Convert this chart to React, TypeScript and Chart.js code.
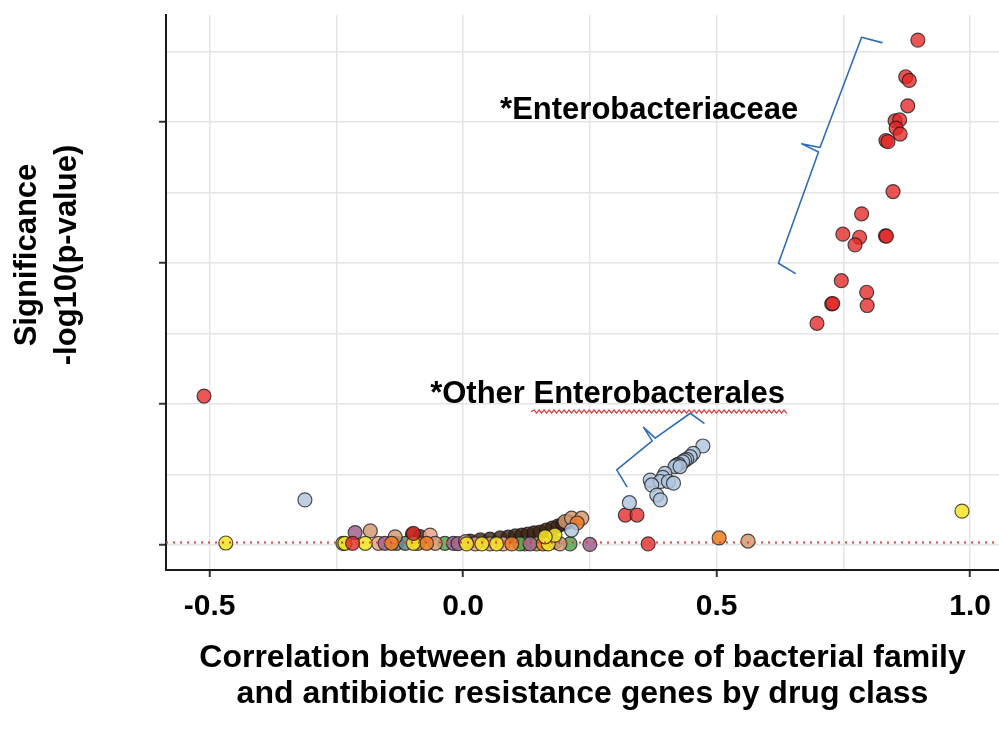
import React, { useEffect, useRef } from "react";
import { Chart, registerables } from "chart.js";

Chart.register(...registerables);

const FONT = '"Liberation Sans", Arial, Helvetica, sans-serif';

// Axis ticks
const xTicks = [-0.5, -0.25, 0, 0.25, 0.5, 0.75, 1.0];
const xTickLabels = ["-0.5", "", "0.0", "", "0.5", "", "1.0"];
const yTicks = [0, 2.5, 5, 7.5, 10, 12.5, 15, 17.5];
const xMin = -0.586;
const xMax = 1.057;
const yMin = -0.887;
const yMax = 18.79;
const thresholdY = 0.09;

// Titles
const xTitle = [
  "Correlation between abundance of bacterial family",
  "and antibiotic resistance genes by drug class",
];
const yTitle = ["Significance", "-log10(p-value)"];

// Series (correlation, -log10 p)
const enterobacteriaceaeX = [
  0.897, 0.873, 0.88, 0.877, 0.852, 0.861, 0.854, 0.862, 0.834, 0.838, 0.848,
  0.786, 0.749, 0.782, 0.773, 0.833, 0.835, 0.746, 0.796, 0.727, 0.729, 0.797,
  0.698, 0.32, 0.343, -0.511, 0.365, -0.218, -0.098,
];
const enterobacteriaceaeY = [
  17.9, 16.6, 16.47, 15.57, 15.04, 15.07, 14.78, 14.57, 14.34, 14.3, 12.53,
  11.74, 11.02, 10.91, 10.64, 10.96, 10.95, 9.37, 8.96, 8.55, 8.56, 8.49,
  7.86, 1.06, 1.06, 5.28, 0.04, 0.06, 0.41,
];

const otherEnterobacteralesX = [
  0.473, 0.454, 0.448, 0.441, 0.437, 0.433, 0.425, 0.421, 0.418, 0.428, 0.398,
  0.394, 0.369, 0.389, 0.405, 0.415, 0.372, 0.382, 0.389, 0.328, -0.312, 0.214,
];
const otherEnterobacteralesY = [
  3.51, 3.25, 3.13, 3.04, 3.0, 2.95, 2.87, 2.83, 2.78, 2.78, 2.54,
  2.4, 2.3, 2.25, 2.25, 2.19, 2.13, 1.77, 1.6, 1.5, 1.6, 0.53,
];

const yellowX = [-0.468, 0.984, -0.233, -0.193, -0.098, 0.007, 0.037, 0.066, 0.168, 0.181, 0.162];
const yellowY = [0.07, 1.2, 0.06, 0.06, 0.06, 0.04, 0.04, 0.04, 0.04, 0.35, 0.29];

const orangeX = [0.505, -0.141, -0.089, -0.072, 0.096, 0.158, 0.225];
const orangeY = [0.25, 0.06, 0.06, 0.06, 0.04, 0.04, 0.78];

const tanX = [0.562, -0.183, -0.134, -0.055, 0.053, 0.191, 0.201, 0.214, 0.234, 0.005];
const tanY = [0.14, 0.5, 0.29, 0.06, 0.04, 0.04, 0.83, 0.95, 0.95, 0.12];

const purpleX = [-0.213, -0.154, -0.019, -0.01, 0.132, 0.25];
const purpleY = [0.44, 0.06, 0.06, 0.05, 0.04, 0.02];

const greenX = [-0.036, 0.112, 0.211];
const greenY = [0.06, 0.04, 0.04];

const tealX = [-0.131, -0.114, 0.181];
const tealY = [0.06, 0.06, 0.1];

const peachX = [-0.167, -0.065, 0.079, 0.024];
const peachY = [0.06, 0.35, 0.04, 0.04];

const oliveX = [-0.237, 0.122, 0.145];
const oliveY = [0.06, 0.04, 0.04];

const brownX = [-0.1, -0.085, 0.014, 0.034, 0.053, 0.073, 0.089, 0.103, 0.116, 0.128, 0.14, 0.152, 0.164, 0.176, 0.187, 0.197, 0.207];
const brownY = [0.38, 0.3, 0.14, 0.18, 0.21, 0.25, 0.28, 0.32, 0.35, 0.39, 0.43, 0.46, 0.53, 0.6, 0.67, 0.75, 0.82];

// Annotations (data coordinates)
const annotationLabels = ["*Enterobacteriaceae", "*Other Enterobacterales"];
const annotationX = [0.073, -0.065];
const annotationY = [15.1, 5.04];
const squiggleX = [0.135, 0.638];
const squiggleY = 4.73;
const braceEntero = [
  [0.826, 17.81], [0.786, 18.0], [0.704, 14.09], [0.668, 14.22],
  [0.701, 13.93], [0.622, 9.99], [0.655, 9.63],
];
const braceOther = [
  [0.475, 4.32], [0.448, 4.67], [0.379, 3.79], [0.356, 4.17],
  [0.373, 3.69], [0.303, 2.66], [0.323, 2.07],
];

const pts = (xs: number[], ys: number[]) => xs.map((x, i) => ({ x, y: ys[i] }));

const annotationPlugin = {
  id: "annotations",
  afterDraw(chart: any) {
    const { ctx, scales } = chart;
    const sx = scales.x;
    const sy = scales.y;
    ctx.save();
    // braces
    ctx.strokeStyle = "#2f6db5";
    ctx.lineWidth = 1.6;
    ctx.lineJoin = "round";
    ctx.lineCap = "round";
    [braceEntero, braceOther].forEach((b) => {
      ctx.beginPath();
      b.forEach((p, i) => {
        const px = sx.getPixelForValue(p[0]);
        const py = sy.getPixelForValue(p[1]);
        if (i === 0) ctx.moveTo(px, py);
        else ctx.lineTo(px, py);
      });
      ctx.stroke();
    });
    // labels
    ctx.fillStyle = "#000";
    ctx.font = `bold 31px ${FONT}`;
    ctx.textAlign = "left";
    ctx.textBaseline = "alphabetic";
    annotationLabels.forEach((t, i) => {
      ctx.fillText(t, sx.getPixelForValue(annotationX[i]), sy.getPixelForValue(annotationY[i]));
    });
    // squiggle
    const x0 = sx.getPixelForValue(squiggleX[0]);
    const x1 = sx.getPixelForValue(squiggleX[1]);
    const yy = sy.getPixelForValue(squiggleY);
    ctx.strokeStyle = "#e0353a";
    ctx.lineWidth = 1.2;
    ctx.beginPath();
    let up = true;
    ctx.moveTo(x0, yy);
    for (let x = x0 + 2.5; x <= x1; x += 2.5) {
      ctx.lineTo(x, yy + (up ? -1.6 : 1.6));
      up = !up;
    }
    ctx.stroke();
    // y title
    ctx.fillStyle = "#000";
    ctx.font = `bold 31px ${FONT}`;
    ctx.textAlign = "center";
    ctx.textBaseline = "middle";
    const cy = 255;
    [27, 67].forEach((cx, i) => {
      ctx.save();
      ctx.translate(cx, cy);
      ctx.rotate(-Math.PI / 2);
      ctx.fillText(yTitle[i], 0, 0);
      ctx.restore();
    });
    ctx.restore();
  },
};

export default function App() {
  const ref = useRef<HTMLCanvasElement>(null);
  useEffect(() => {
    const canvas = ref.current;
    if (!canvas) return;
    const border = "rgba(25,25,25,0.75)";
    const mk = (label: string, xs: number[], ys: number[], fill: string) => ({
      type: "scatter" as const,
      label,
      data: pts(xs, ys),
      backgroundColor: fill,
      borderColor: border,
      borderWidth: 1.2,
      pointRadius: 7,
      pointHoverRadius: 7,
    });
    const isMajor = (v: number) => Math.abs(v * 2 - Math.round(v * 2)) < 1e-6;
    const isMajorY = (v: number) => Math.abs(v / 5 - Math.round(v / 5)) < 1e-6;
    const chart = new Chart(canvas, {
      type: "scatter",
      data: {
        datasets: [
          {
            type: "line",
            label: "threshold",
            data: [
              { x: xMin, y: thresholdY },
              { x: xMax, y: thresholdY },
            ],
            borderColor: "#e0413c",
            borderWidth: 2,
            borderDash: [2, 5],
            pointRadius: 0,
            fill: false,
          } as any,
          mk("Other Enterobacterales", otherEnterobacteralesX, otherEnterobacteralesY, "rgba(176,196,222,0.82)"),
          mk("Enterobacteriaceae", enterobacteriaceaeX, enterobacteriaceaeY, "rgba(228,38,38,0.78)"),
          mk("yellow", yellowX, yellowY, "rgba(246,228,40,0.88)"),
          mk("orange", orangeX, orangeY, "rgba(238,128,40,0.88)"),
          mk("tan", tanX, tanY, "rgba(212,155,115,0.85)"),
          mk("purple", purpleX, purpleY, "rgba(160,105,145,0.88)"),
          mk("green", greenX, greenY, "rgba(95,165,85,0.88)"),
          mk("teal", tealX, tealY, "rgba(105,140,140,0.88)"),
          mk("peach", peachX, peachY, "rgba(236,165,140,0.88)"),
          mk("olive", oliveX, oliveY, "rgba(170,175,60,0.88)"),
          mk("brown", brownX, brownY, "rgba(60,35,20,0.8)"),
        ],
      },
      options: {
        animation: false,
        responsive: false,
        devicePixelRatio: 1,
        layout: { autoPadding: false, padding: { top: 15, left: 0, right: 0, bottom: 0 } },
        plugins: { legend: { display: false }, tooltip: { enabled: false } },
        scales: {
          x: {
            type: "linear",
            position: "bottom",
            min: xMin,
            max: xMax,
            afterBuildTicks: (scale: any) => {
              scale.ticks = xTicks.map((v) => ({ value: v }));
            },
            afterFit: (scale: any) => {
              scale.height = 165;
              scale.paddingLeft = 0;
              scale.paddingRight = 0;
            },
            ticks: {
              autoSkip: false,
              maxRotation: 0,
              padding: 12,
              color: "#000",
              font: { family: FONT, size: 30, weight: "bold" },
              callback: (_v: any, i: number) => xTickLabels[i],
            },
            grid: {
              color: "#e4e4e4",
              lineWidth: 1.5,
              tickLength: 7,
              tickWidth: 2,
              tickColor: (c: any) => (c.tick && isMajor(c.tick.value) ? "#333" : "rgba(0,0,0,0)"),
            },
            border: { display: true, color: "#1a1a1a", width: 2 },
            title: {
              display: true,
              text: xTitle,
              color: "#000",
              font: { family: FONT, size: 32, weight: "bold", lineHeight: 1.15 },
              padding: { top: 0, bottom: 22 },
            },
          },
          y: {
            type: "linear",
            min: yMin,
            max: yMax,
            afterBuildTicks: (scale: any) => {
              scale.ticks = yTicks.map((v) => ({ value: v }));
            },
            afterFit: (scale: any) => {
              scale.width = 166;
            },
            ticks: { display: false },
            grid: {
              color: "#e4e4e4",
              lineWidth: 1.5,
              tickLength: 7,
              tickWidth: 2,
              tickColor: (c: any) => (c.tick && isMajorY(c.tick.value) ? "#333" : "rgba(0,0,0,0)"),
            },
            border: { display: true, color: "#1a1a1a", width: 2 },
          },
        },
      },
      plugins: [annotationPlugin],
    } as any);
    return () => chart.destroy();
  }, []);
  return (
    <div style={{ position: "fixed", left: 0, top: 0, width: 999, height: 735, background: "#fff" }}>
      <canvas ref={ref} width={999} height={735} style={{ display: "block", width: 999, height: 735 }} />
    </div>
  );
}
